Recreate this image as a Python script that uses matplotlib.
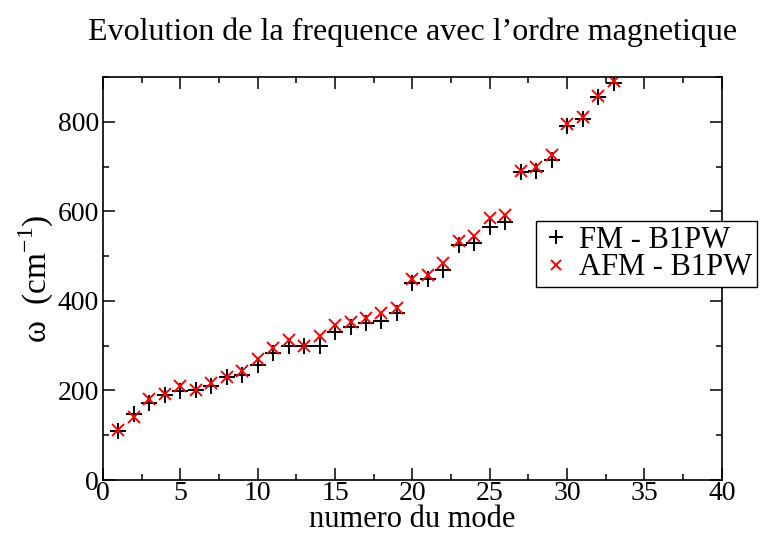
from matplotlib import pyplot as plt
from matplotlib.ticker import MultipleLocator
import numpy as np

modes = np.arange(1, 34)
fm = [110, 148, 173, 190, 198, 200, 211, 230, 234, 256, 284, 299, 299, 299, 331,
      341, 350, 356, 374, 440, 448, 470, 524, 530, 565, 577, 689, 690, 715, 791,
      806, 855, 887]
afm = [112, 141, 182, 193, 211, 200, 217, 230, 243, 271, 294, 312, 299, 322, 347,
       353, 361, 372, 384, 449, 458, 485, 533, 544, 586, 592, 690, 699, 726, 795,
       810, 857, 892]

plt.rcParams['font.family'] = ['Liberation Serif', 'DejaVu Serif']
plt.rcParams['mathtext.fontset'] = 'custom'
plt.rcParams['mathtext.rm'] = 'Liberation Serif'

fig = plt.figure(figsize=(7.63, 5.33), dpi=100)
ax = fig.add_axes([0.135, 0.0994, 0.811, 0.756])

ax.plot(modes, fm, '+', color='black', ms=11, mew=1.4, ls='none', label='FM - B1PW')
ax.plot(modes, afm, 'x', color='red', ms=8, mew=1.4, ls='none', label='AFM - B1PW')

ax.set_xlim(0, 40)
ax.set_ylim(0, 900)
ax.xaxis.set_major_locator(MultipleLocator(5))
ax.xaxis.set_minor_locator(MultipleLocator(2.5))
ax.yaxis.set_major_locator(MultipleLocator(200))
ax.yaxis.set_minor_locator(MultipleLocator(100))
ax.tick_params(which='both', direction='in', top=True, right=True, labelsize=20, width=1.1)
ax.tick_params(which='major', length=8.5)
ax.tick_params(which='minor', length=4.5)
ax.tick_params(axis='x', pad=1)
ax.tick_params(axis='y', pad=3)
for s in ax.spines.values():
    s.set_linewidth(1.2)

ax.set_title("Evolution de la frequence avec l\u2019ordre magnetique", fontsize=23, pad=27)
ax.set_xlabel('numero du mode', fontsize=22, labelpad=-1)
ax.set_ylabel(r'$\mathrm{\omega}$  (cm$^{\mathrm{-1}}$)', fontsize=24, labelpad=1)

leg = ax.legend(loc='upper left', bbox_to_anchor=(0.70, 0.642), fontsize=22,
                frameon=True, fancybox=False, edgecolor='black', framealpha=1,
                borderpad=0.15, handletextpad=0.25, labelspacing=-0.05,
                handlelength=1.0, borderaxespad=0, markerscale=0.9)
leg.get_frame().set_linewidth(1.0)

fig.savefig('out.png', dpi=100)
